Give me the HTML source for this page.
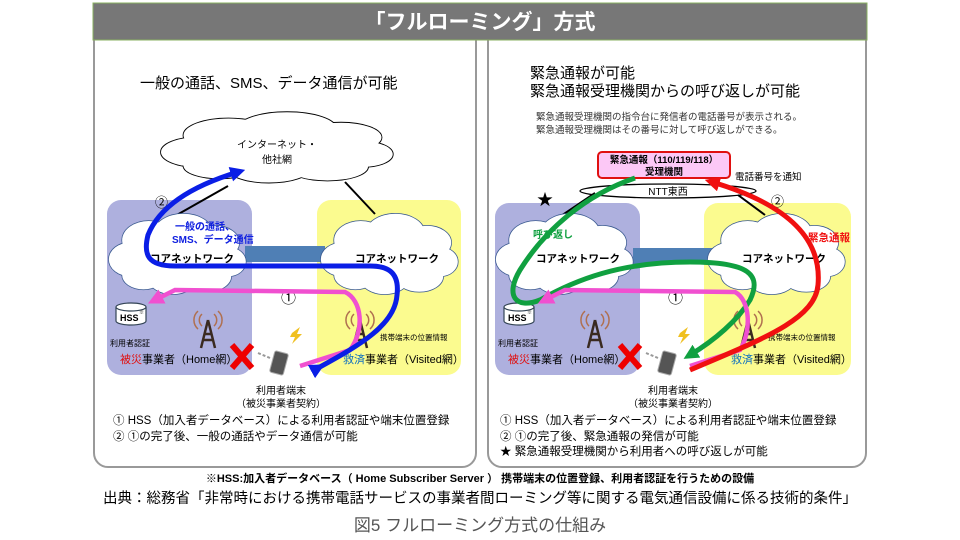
<!DOCTYPE html>
<html><head><meta charset="utf-8"><style>
body{margin:0;background:#fff;}
svg{display:block;font-family:"Liberation Sans","Noto Sans CJK JP",sans-serif;}
</style></head><body>
<svg width="960" height="540" viewBox="0 0 960 540" xmlns="http://www.w3.org/2000/svg">
<defs>
<g id="cso" fill="none" stroke="#000" stroke-width="1.8">
<ellipse vector-effect="non-scaling-stroke" cx="-36" cy="2" rx="16" ry="14"/><ellipse vector-effect="non-scaling-stroke" cx="-22" cy="-14" rx="20" ry="16"/><ellipse vector-effect="non-scaling-stroke" cx="4" cy="-20" rx="22" ry="16"/><ellipse vector-effect="non-scaling-stroke" cx="28" cy="-12" rx="18" ry="14"/><ellipse vector-effect="non-scaling-stroke" cx="38" cy="4" rx="13" ry="12"/><ellipse vector-effect="non-scaling-stroke" cx="22" cy="16" rx="18" ry="13"/><ellipse vector-effect="non-scaling-stroke" cx="-4" cy="18" rx="18" ry="13"/><ellipse vector-effect="non-scaling-stroke" cx="-26" cy="15" rx="16" ry="12"/>
</g>
<g id="csb" fill="none" stroke="#3a5a90" stroke-width="1.5">
<ellipse vector-effect="non-scaling-stroke" cx="-36" cy="2" rx="16" ry="14"/><ellipse vector-effect="non-scaling-stroke" cx="-22" cy="-14" rx="20" ry="16"/><ellipse vector-effect="non-scaling-stroke" cx="4" cy="-20" rx="22" ry="16"/><ellipse vector-effect="non-scaling-stroke" cx="28" cy="-12" rx="18" ry="14"/><ellipse vector-effect="non-scaling-stroke" cx="38" cy="4" rx="13" ry="12"/><ellipse vector-effect="non-scaling-stroke" cx="22" cy="16" rx="18" ry="13"/><ellipse vector-effect="non-scaling-stroke" cx="-4" cy="18" rx="18" ry="13"/><ellipse vector-effect="non-scaling-stroke" cx="-26" cy="15" rx="16" ry="12"/>
</g>
<g id="csf" fill="#fff">
<ellipse cx="-36" cy="2" rx="16" ry="14"/><ellipse cx="-22" cy="-14" rx="20" ry="16"/><ellipse cx="4" cy="-20" rx="22" ry="16"/><ellipse cx="28" cy="-12" rx="18" ry="14"/><ellipse cx="38" cy="4" rx="13" ry="12"/><ellipse cx="22" cy="16" rx="18" ry="13"/><ellipse cx="-4" cy="18" rx="18" ry="13"/><ellipse cx="-26" cy="15" rx="16" ry="12"/><ellipse cx="0" cy="0" rx="38" ry="22"/>
</g>
<g id="cloud"><use href="#cso"/><use href="#csf"/></g>
<g id="cloudb"><use href="#csb"/><use href="#csf"/></g>
<g id="tower" stroke="#3a2a20" stroke-width="2.5" fill="none">
<path d="M0,-10 L-7,18 M0,-10 L7,18 M-4,4 L4,4 M-5,10 L5,10"/>
<path d="M-6,-16 A8,8 0 0 0 -6,-4 M6,-16 A8,8 0 0 1 6,-4 M-10,-19 A12,12 0 0 0 -10,-1 M10,-19 A12,12 0 0 1 10,-1" stroke="#b07050" stroke-width="1.5"/>
</g>
<marker id="ab" viewBox="0 0 10 10" refX="5" refY="5" markerWidth="3" markerHeight="3" orient="auto"><path d="M0,0 L10,5 L0,10 z" fill="#0a1ee6"/></marker>
<marker id="ap" viewBox="0 0 10 10" refX="5" refY="5" markerWidth="3.5" markerHeight="3.5" orient="auto"><path d="M0,0 L10,5 L0,10 z" fill="#f050d0"/></marker>
<marker id="ag" viewBox="0 0 10 10" refX="5" refY="5" markerWidth="3" markerHeight="3" orient="auto"><path d="M0,0 L10,5 L0,10 z" fill="#10a040"/></marker>
<marker id="ar" viewBox="0 0 10 10" refX="5" refY="5" markerWidth="3" markerHeight="3" orient="auto"><path d="M0,0 L10,5 L0,10 z" fill="#f01010"/></marker>
</defs>

<rect x="94" y="4" width="382" height="463" rx="14" fill="#fff" stroke="#999" stroke-width="2"/>
<rect x="488" y="4" width="378" height="463" rx="14" fill="#fff" stroke="#999" stroke-width="2"/>
<rect x="93" y="3" width="774" height="37" fill="#777" stroke="#8ab060" stroke-width="1"/>
<text x="480" y="29" text-anchor="middle" font-size="21" font-weight="bold" fill="#fff">「フルローミング」方式</text>

<!-- LEFT -->
<text x="140" y="88" font-size="15">一般の通話、SMS、データ通信が可能</text>
<use href="#cloud" transform="translate(278,150) scale(2.25,1.05)"/>
<text x="277" y="148" text-anchor="middle" font-size="10">インターネット・</text>
<text x="277" y="163" text-anchor="middle" font-size="10">他社網</text>
<rect x="107" y="200" width="145" height="175" rx="14" fill="#aeb0de"/>
<rect x="317" y="200" width="144" height="175" rx="14" fill="#fbfb8f"/>
<line x1="175" y1="216" x2="228" y2="186" stroke="#000" stroke-width="2"/>
<line x1="375" y1="214" x2="345" y2="182" stroke="#000" stroke-width="2"/>
<rect x="245" y="246" width="80" height="16" fill="#4f7fb5"/>
<use href="#cloudb" transform="translate(178,257) scale(1.33,1.2)"/>
<use href="#cloudb" transform="translate(390,257) scale(1.33,1.2)"/>
<text x="150" y="262" font-size="10.5" font-weight="bold">コアネットワーク</text>
<text x="355" y="262" font-size="10.5" font-weight="bold">コアネットワーク</text>
<text x="175" y="230" font-size="10" font-weight="bold" fill="#1020e0">一般の通話、</text>
<text x="172" y="243" font-size="10" font-weight="bold" fill="#1020e0">SMS、データ通信</text>
<text x="155" y="207" font-size="13">②</text>
<text x="281" y="303" font-size="15">①</text>
<g><path d="M116,307 v14 a15,4 0 0 0 30,0 v-14" fill="#fff" stroke="#345" stroke-width="1.2"/><ellipse cx="131" cy="307" rx="15" ry="4" fill="#fff" stroke="#345" stroke-width="1.2"/><text x="120" y="321" font-size="9" font-weight="bold">HSS</text><text x="139" y="314" font-size="5">※</text></g>
<use href="#tower" transform="translate(208,330)"/>
<use href="#tower" transform="translate(360,330)"/>
<text x="110" y="346" font-size="8">利用者認証</text>
<text x="120" y="363" font-size="11"><tspan fill="#e01010">被災</tspan>事業者（Home網）</text>
<text x="380" y="340" font-size="7.5">携帯端末の位置情報</text>
<text x="343" y="363" font-size="11"><tspan fill="#1070c0">救済</tspan>事業者（Visited網）</text>
<path d="M232,345 L252,368 M252,345 L232,368" stroke="#e00" stroke-width="6"/>
<line x1="270" y1="358" x2="258" y2="353" stroke="#999" stroke-width="2" stroke-dasharray="3,2"/>
<rect x="272" y="352" width="14" height="22" rx="2" transform="rotate(15 279 363)" fill="#555" stroke="#aaa"/>
<path d="M292,333 l8,-6 -3,7 5,0 -10,10 3,-7 -5,0z" fill="#f0c020"/>
<path d="M300,366 L350,350 C365,330 362,300 345,292 L175,290 L155,300" fill="none" stroke="#f050d0" stroke-width="4.5" marker-end="url(#ap)"/>
<path d="M318,368 C360,345 395,325 397,295 C400,270 385,266 370,266 L175,266 C148,266 143,255 148,235 C160,205 195,185 238,172" fill="none" stroke="#0a1ee6" stroke-width="5" marker-start="url(#ab)" marker-end="url(#ab)"/>
<text x="281" y="394" text-anchor="middle" font-size="10">利用者端末</text>
<text x="281" y="407" text-anchor="middle" font-size="10">（被災事業者契約）</text>
<text x="113" y="424" font-size="11.5">①  HSS（加入者データベース）による利用者認証や端末位置登録</text>
<text x="113" y="440" font-size="11.5">②  ①の完了後、一般の通話やデータ通信が可能</text>

<!-- RIGHT -->
<text x="530" y="78" font-size="15">緊急通報が可能</text>
<text x="530" y="96" font-size="15">緊急通報受理機関からの呼び返しが可能</text>
<text x="536" y="120" font-size="9.5" fill="#333">緊急通報受理機関の指令台に発信者の電話番号が表示される。</text>
<text x="536" y="133" font-size="9.5" fill="#333">緊急通報受理機関はその番号に対して呼び返しができる。</text>
<ellipse cx="668" cy="191" rx="88" ry="7" fill="#fff" stroke="#000" stroke-width="1.3"/>
<text x="668" y="195" text-anchor="middle" font-size="10">NTT東西</text>
<rect x="598" y="152" width="132" height="26" rx="4" fill="#fcc8f6" stroke="#e01010" stroke-width="2"/>
<text x="664" y="163" text-anchor="middle" font-size="9.5" font-weight="bold">緊急通報（110/119/118）</text>
<text x="664" y="175" text-anchor="middle" font-size="9.5" font-weight="bold">受理機関</text>
<text x="735" y="180" font-size="9.5">電話番号を通知</text>
<rect x="495" y="203" width="145" height="172" rx="14" fill="#aeb0de"/>
<rect x="704" y="203" width="147" height="172" rx="14" fill="#fbfb8f"/>
<text x="545" y="205" font-size="16" text-anchor="middle">★</text>
<text x="771" y="206" font-size="13">②</text>
<line x1="558" y1="218" x2="595" y2="193" stroke="#000" stroke-width="2"/>
<line x1="765" y1="215" x2="738" y2="195" stroke="#000" stroke-width="2"/>
<rect x="633" y="248" width="80" height="16" fill="#4f7fb5"/>
<use href="#cloudb" transform="translate(565,257) scale(1.33,1.2)"/>
<use href="#cloudb" transform="translate(777,257) scale(1.33,1.2)"/>
<text x="536" y="262" font-size="10.5" font-weight="bold">コアネットワーク</text>
<text x="742" y="262" font-size="10.5" font-weight="bold">コアネットワーク</text>
<text x="533" y="238" font-size="10" font-weight="bold" fill="#10a040">呼び返し</text>
<text x="808" y="241" font-size="10.5" font-weight="bold" fill="#f01010">緊急通報</text>
<text x="668" y="303" font-size="15">①</text>
<g><path d="M504,307 v14 a15,4 0 0 0 30,0 v-14" fill="#fff" stroke="#345" stroke-width="1.2"/><ellipse cx="519" cy="307" rx="15" ry="4" fill="#fff" stroke="#345" stroke-width="1.2"/><text x="508" y="321" font-size="9" font-weight="bold">HSS</text><text x="527" y="314" font-size="5">※</text></g>
<use href="#tower" transform="translate(595,330)"/>
<use href="#tower" transform="translate(748,330)"/>
<text x="498" y="346" font-size="8">利用者認証</text>
<text x="508" y="363" font-size="11"><tspan fill="#e01010">被災</tspan>事業者（Home網）</text>
<text x="768" y="340" font-size="7.5">携帯端末の位置情報</text>
<text x="731" y="363" font-size="11"><tspan fill="#1070c0">救済</tspan>事業者（Visited網）</text>
<path d="M620,345 L640,368 M640,345 L620,368" stroke="#e00" stroke-width="6"/>
<line x1="658" y1="358" x2="646" y2="353" stroke="#999" stroke-width="2" stroke-dasharray="3,2"/>
<rect x="660" y="352" width="14" height="22" rx="2" transform="rotate(15 667 363)" fill="#555" stroke="#aaa"/>
<path d="M680,333 l8,-6 -3,7 5,0 -10,10 3,-7 -5,0z" fill="#f0c020"/>
<path d="M635,178 C585,195 545,230 520,270 C505,295 515,310 540,300" fill="none" stroke="#10a040" stroke-width="5"/>
<path d="M540,300 C575,280 620,262 690,262 C750,262 762,275 750,300 C738,320 715,340 690,355" fill="none" stroke="#10a040" stroke-width="5" marker-end="url(#ag)"/>
<path d="M690,366 L740,350 C752,330 750,300 735,292 L565,290 L545,300" fill="none" stroke="#f050d0" stroke-width="4.5" marker-end="url(#ap)"/>
<path d="M690,370 C760,340 815,320 818,285 C822,240 790,205 712,182" fill="none" stroke="#f01010" stroke-width="5" marker-end="url(#ar)"/>
<text x="673" y="394" text-anchor="middle" font-size="10">利用者端末</text>
<text x="673" y="407" text-anchor="middle" font-size="10">（被災事業者契約）</text>
<text x="500" y="424" font-size="11.5">①  HSS（加入者データベース）による利用者認証や端末位置登録</text>
<text x="500" y="440" font-size="11.5">②  ①の完了後、緊急通報の発信が可能</text>
<text x="500" y="455" font-size="11.5">★  緊急通報受理機関から利用者への呼び返しが可能</text>

<text x="480" y="482" text-anchor="middle" font-size="11" font-weight="bold">※HSS:加入者データベース（ Home Subscriber Server ）  携帯端末の位置登録、利用者認証を行うための設備</text>
<text x="480" y="503" text-anchor="middle" font-size="14.5">出典：総務省「非常時における携帯電話サービスの事業者間ローミング等に関する電気通信設備に係る技術的条件」</text>
<text x="480" y="531" text-anchor="middle" font-size="17" fill="#555">図5  フルローミング方式の仕組み</text>
</svg>
</body></html>
